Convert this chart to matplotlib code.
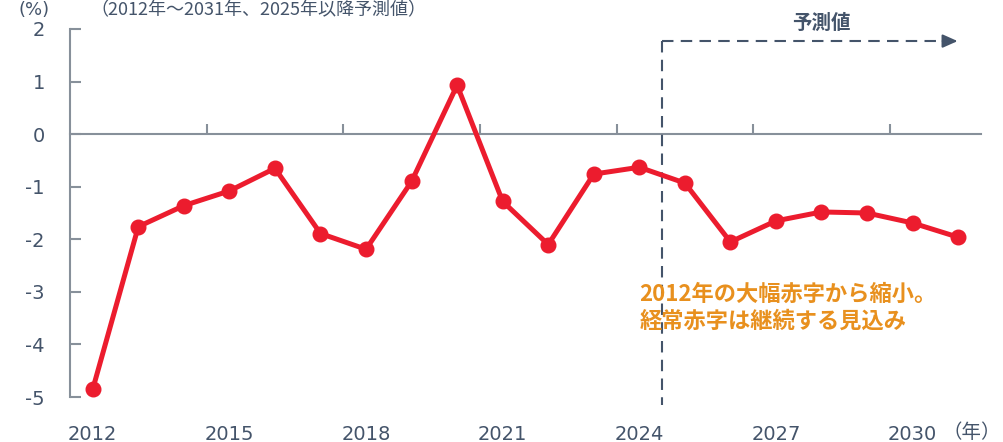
import numpy as np
import matplotlib.pyplot as plt
from matplotlib.ticker import FixedLocator, NullFormatter

plt.rcParams['font.family'] = ['DejaVu Sans', 'Noto Sans CJK JP']

# Data: balance ratio (%) 2012-2031, 2025 onward forecast
years = np.arange(2012, 2032)
values = [-4.85, -1.76, -1.36, -1.08, -0.65, -1.89, -2.19, -0.90, 0.93, -1.28,
          -2.10, -0.76, -0.63, -0.93, -2.05, -1.65, -1.48, -1.50, -1.69, -1.96]
label_years = [2012, 2015, 2018, 2021, 2024, 2027, 2030]
forecast_start = 2024.5

red = '#EC1C2E'
slate = '#44546A'
axis_gray = '#87909A'
orange = '#E8901E'

fig = plt.figure(figsize=(10.04, 4.42), dpi=100)
ax = fig.add_axes([0.0697, 0.1018, 0.977 - 0.0697, 0.9344 - 0.1018])

ax.plot(years, values, color=red, lw=3.6, marker='o', ms=10.5,
        clip_on=False, zorder=5)

ax.set_xlim(2011.5, 2031.5)
ax.set_ylim(-5, 2)

# spines
for s in ['top', 'right']:
    ax.spines[s].set_visible(False)
ax.spines['left'].set_color(axis_gray)
ax.spines['left'].set_linewidth(1.5)
ax.spines['bottom'].set_position(('data', 0))
ax.spines['bottom'].set_color(axis_gray)
ax.spines['bottom'].set_linewidth(1.5)

# ticks on the zero line at category boundaries, no labels
ax.xaxis.set_major_locator(FixedLocator(np.arange(2014.5, 2031, 3)))
ax.xaxis.set_major_formatter(NullFormatter())
ax.tick_params(axis='x', direction='in', length=7, width=1.5, color=axis_gray)

ax.set_yticks(range(-5, 3))
ax.set_yticklabels([str(v) for v in range(-5, 3)])
ax.tick_params(axis='y', direction='in', length=8, width=1.5, color=axis_gray,
               labelsize=14, labelcolor=slate, pad=18)

# year labels at bottom
sec = ax.secondary_xaxis(0)
sec.set_xticks(label_years)
sec.set_xticklabels([str(y) for y in label_years])
sec.spines['bottom'].set_visible(False)
sec.tick_params(axis='x', length=0, labelsize=14, labelcolor=slate, pad=20)

fig.text(0.968, 0.022, '（年）', fontsize=14, color=slate,
         ha='center', va='center', family=['Noto Sans CJK JP'])

# header texts
fig.text(0.018, 0.998, '(%)', fontsize=13, color=slate, ha='left', va='top')
fig.text(0.09, 0.998, '（2012年～2031年、2025年以降予測値）', fontsize=13,
         color=slate, ha='left', va='top', family=['Noto Sans CJK JP'])

# forecast marker
ax.plot([forecast_start, forecast_start], [1.77, -5.15], color=slate, lw=1.5,
        ls=(0, (5.5, 3.5)), clip_on=False, zorder=3)
ax.plot([forecast_start, 2030.8], [1.77, 1.77], color=slate, lw=1.5,
        ls=(0, (5.5, 3.5)), clip_on=False, zorder=3)
ax.annotate('', xy=(2031.05, 1.77), xytext=(2030.6, 1.77),
            arrowprops=dict(arrowstyle='-|>,head_length=0.9,head_width=0.4',
                            color=slate, lw=1.5), annotation_clip=False)
ax.text(2028.0, 2.1, '予測値', fontsize=14, fontweight='bold', color=slate,
        ha='center', va='center', family=['Noto Sans CJK JP'])

ax.text(2024.0, -3.3, '2012年の大幅赤字から縮小。\n経常赤字は継続する見込み',
        fontsize=16, fontweight='bold', color=orange, ha='left', va='center',
        linespacing=1.25, family=['Noto Sans CJK JP'])

fig.savefig('out.png', dpi=100)
